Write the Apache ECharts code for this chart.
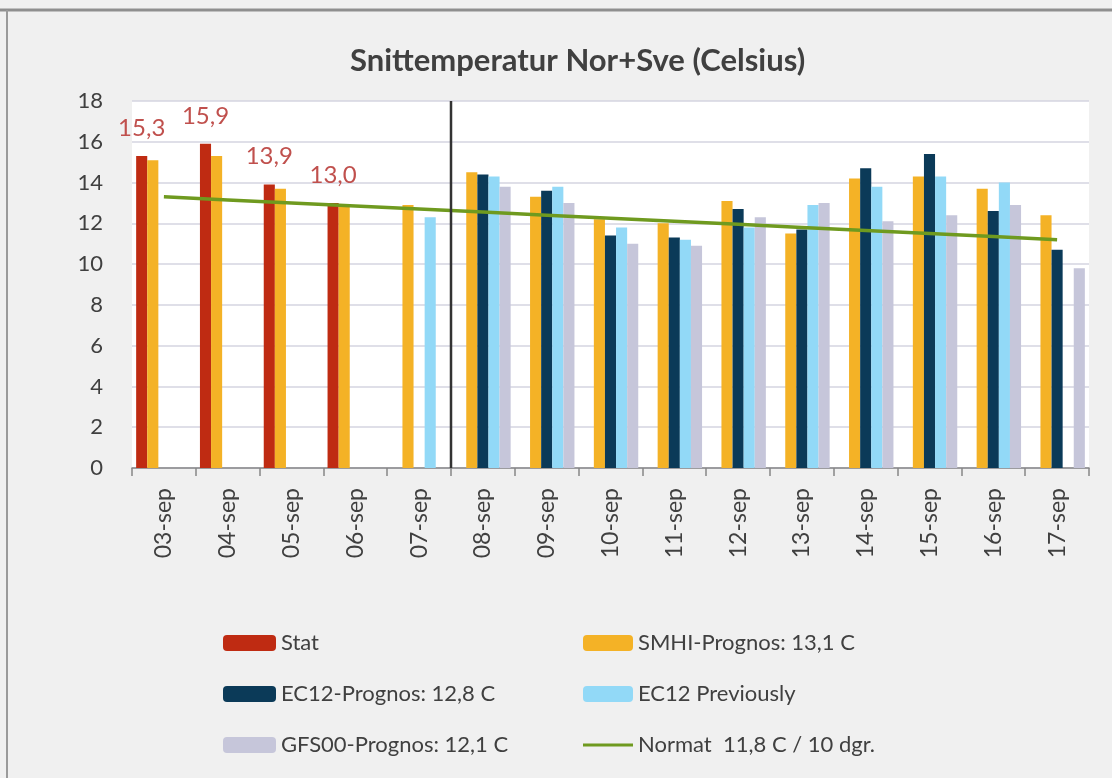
<!DOCTYPE html>
<html>
<head>
<meta charset="utf-8">
<script src="https://cdn.jsdelivr.net/npm/echarts@6/dist/echarts.min.js"></script>
<style>
html,body{margin:0;padding:0;background:#f0f0f0;}
#chart{width:1112px;height:778px;}
</style>
</head>
<body>
<div id="chart"></div>
<script>
var categories = ['03-sep','04-sep','05-sep','06-sep','07-sep','08-sep','09-sep','10-sep','11-sep','12-sep','13-sep','14-sep','15-sep','16-sep','17-sep'];
var stat     = [15.3, 15.9, 13.9, 13.0, null, null, null, null, null, null, null, null, null, null, null];
var smhi     = [15.1, 15.3, 13.7, 12.8, 12.9, 14.5, 13.3, 12.2, 12.0, 13.1, 11.5, 14.2, 14.3, 13.7, 12.4];
var ec12     = [null, null, null, null, null, 14.4, 13.6, 11.4, 11.3, 12.7, 11.7, 14.7, 15.4, 12.6, 10.7];
var ec12prev = [null, null, null, null, 12.3, 14.3, 13.8, 11.8, 11.2, 11.8, 12.9, 13.8, 14.3, 14.0, null];
var gfs      = [null, null, null, null, null, 13.8, 13.0, 11.0, 10.9, 12.3, 13.0, 12.1, 12.4, 12.9, 9.8];
var normal   = [13.3, 13.15, 13.0, 12.85, 12.7, 12.55, 12.4, 12.25, 12.1, 11.95, 11.8, 11.65, 11.5, 11.35, 11.2];
var yTicks   = {min: 0, max: 18, interval: 2};
var dividerAt = 5; // boundary between 07-sep and 08-sep (category count)

var names = {
  stat: 'Stat',
  smhi: 'SMHI-Prognos: 13,1 C',
  ec12: 'EC12-Prognos: 12,8 C',
  prev: 'EC12 Previously',
  gfs: 'GFS00-Prognos: 12,1 C',
  normal: 'Normat  11,8 C / 10 dgr.'
};

var FONT = 'Lato';
var GREEN = '#6f9a1f';
var chart = echarts.init(document.getElementById('chart'));

function bar(name, data, color, extra) {
  var s = {
    name: name, type: 'bar', data: data,
    barGap: '0%', barCategoryGap: '13%',
    itemStyle: {color: color},
    z: 2
  };
  if (extra) for (var k in extra) s[k] = extra[k];
  return s;
}

var legendText = {fontFamily: FONT, fontSize: 22, color: '#404040'};
var lineIcon = 'path://M0,0 L0.01,0 L0.01,0.01 Z M0,6.5 L50,6.5 L50,9.5 L0,9.5 Z M0,16 L0.01,16 L0.01,15.99 Z';

var option = {
  backgroundColor: '#f0f0f0',
  animation: false,
  textStyle: {fontFamily: FONT},
  title: {
    text: 'Snittemperatur Nor+Sve (Celsius)',
    left: 345, top: 40,
    textStyle: {fontFamily: FONT, fontSize: 31, fontWeight: 'bold', color: '#404040'}
  },
  grid: {
    left: 132, right: 23, top: 101, bottom: 310,
    show: true, backgroundColor: '#ffffff', borderWidth: 0
  },
  legend: [
    {
      left: 218, top: 627, orient: 'vertical',
      itemWidth: 53, itemHeight: 16, itemGap: 29,
      data: [names.stat, names.ec12, names.gfs],
      textStyle: legendText
    },
    {
      left: 578, top: 627, orient: 'vertical',
      itemWidth: 50, itemHeight: 16, itemGap: 29,
      data: [names.smhi, names.prev, {name: names.normal, icon: lineIcon, itemStyle: {color: GREEN}}],
      textStyle: legendText
    }
  ],
  xAxis: [
    {
      type: 'category', data: categories, boundaryGap: true,
      axisLine: {lineStyle: {color: '#868686', width: 1.5}},
      axisTick: {show: true, interval: 0, length: 8, lineStyle: {color: '#868686', width: 1.5}},
      axisLabel: {rotate: 90, interval: 0, margin: 20, fontFamily: FONT, fontSize: 23, color: '#404040'},
      splitLine: {show: false}
    },
    {
      type: 'value', min: 0, max: categories.length, show: false
    }
  ],
  yAxis: {
    type: 'value', min: yTicks.min, max: yTicks.max, interval: yTicks.interval,
    axisLine: {show: false}, axisTick: {show: false},
    axisLabel: {margin: 29, fontFamily: FONT, fontSize: 22, color: '#404040'},
    splitLine: {lineStyle: {color: '#d4d4e0', width: 1.5}}
  },
  series: [
    bar(names.stat, stat, '#bf2b12', {
      label: {
        show: true, position: 'top', distance: 16,
        fontFamily: FONT, fontSize: 24, color: '#c0504d',
        formatter: function (p) { return p.value.toFixed(1).replace('.', ','); }
      }
    }),
    bar(names.smhi, smhi, '#f4b226'),
    bar(names.ec12, ec12, '#0b3a58'),
    bar(names.prev, ec12prev, '#92d9f7'),
    bar(names.gfs, gfs, '#c6c6da'),
    {
      name: names.normal, type: 'line', data: normal,
      symbol: 'none', smooth: false,
      lineStyle: {color: GREEN, width: 3.5},
      itemStyle: {color: GREEN},
      z: 5
    },
    {
      name: 'divider', type: 'line', xAxisIndex: 1,
      data: [[dividerAt, yTicks.min], [dividerAt, yTicks.max]],
      symbol: 'none', silent: true,
      lineStyle: {color: '#333333', width: 2.5},
      z: 6
    }
  ],
  graphic: [
    {type: 'line', shape: {x1: 0, y1: 10, x2: 1112, y2: 10}, style: {stroke: '#8f8f8f', lineWidth: 3}},
    {type: 'line', shape: {x1: 7, y1: 10, x2: 7, y2: 778}, style: {stroke: '#9a9a9a', lineWidth: 2}}
  ]
};
chart.setOption(option);
</script>
</body>
</html>
